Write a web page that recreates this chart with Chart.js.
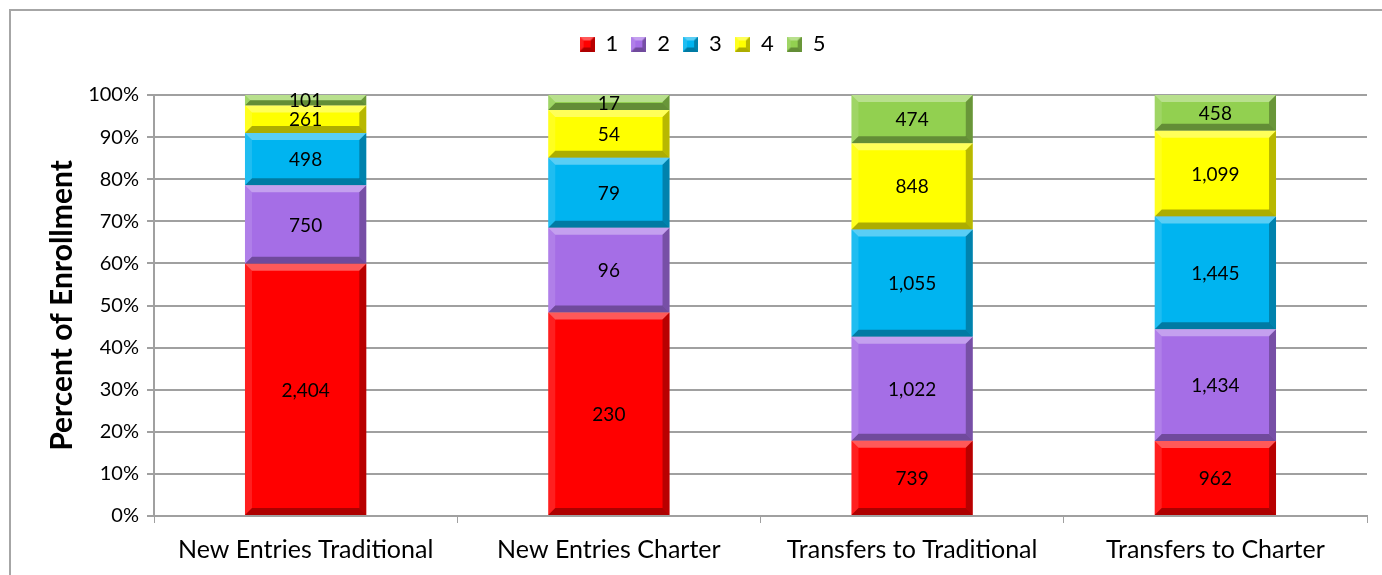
<!DOCTYPE html>
<html>
<head>
<meta charset="utf-8">
<script src="https://cdn.jsdelivr.net/npm/chart.js@4/dist/chart.umd.min.js"></script>
<style>
    html, body { margin: 0; padding: 0; background: #fff; overflow: hidden; }
    #wrap { position: relative; width: 1382px; height: 575px; }
    #frame { position: absolute; left: 9px; top: 9px; width: 1400px; height: 600px; border: 2px solid #a6a6a6; box-sizing: border-box; }
    canvas { position: absolute; left: 0; top: 0; }
</style>
</head>
<body>
<div id="wrap">
    <div id="frame"></div>
    <canvas id="mainChart" width="1382" height="575"></canvas>
</div>
<script>
// Kategorie i liczby uczniów dla każdej serii (1..5)
const categories = ['New Entries Traditional', 'New Entries Charter', 'Transfers to Traditional', 'Transfers to Charter'];
const seriesNames = ['1', '2', '3', '4', '5'];
const level1 = [2404, 230, 739, 962];
const level2 = [750, 96, 1022, 1434];
const level3 = [498, 79, 1055, 1445];
const level4 = [261, 54, 848, 1099];
const level5 = [101, 17, 474, 458];
const yTicks = [0, 10, 20, 30, 40, 50, 60, 70, 80, 90, 100];

const seriesColors = ['#ff0000', '#a56ee6', '#00b4f0', '#ffff00', '#92d050'];
const counts = [level1, level2, level3, level4, level5];

// sumy dla wykresu 100%
const totals = categories.map((_, i) => counts.reduce((s, arr) => s + arr[i], 0));

const FONT = 'Lato, "Open Sans", sans-serif';

/**
 * Rysuje fazowany prostokąt (efekt "bevel")
 */
function drawBevel(ctx, left, top, right, bottom, b) {
    const h = bottom - top, w = right - left;
    b = Math.min(b, h / 2, w / 2);
    if (b <= 0) return;
    ctx.save();
    const poly = (pts, fill) => {
        ctx.beginPath();
        ctx.moveTo(pts[0][0], pts[0][1]);
        for (let k = 1; k < pts.length; k++) ctx.lineTo(pts[k][0], pts[k][1]);
        ctx.closePath();
        ctx.fillStyle = fill;
        ctx.fill();
    };
    // góra - jasna
    poly([[left, top], [right, top], [right - b, top + b], [left + b, top + b]], 'rgba(255,255,255,0.35)');
    // lewo - lekko jasna
    poly([[left, top], [left + b, top + b], [left + b, bottom - b], [left, bottom]], 'rgba(255,255,255,0.12)');
    // dół - ciemna
    poly([[left, bottom], [left + b, bottom - b], [right - b, bottom - b], [right, bottom]], 'rgba(0,0,0,0.32)');
    // prawo - ciemna
    poly([[right, top], [right, bottom], [right - b, bottom - b], [right - b, top + b]], 'rgba(0,0,0,0.28)');
    ctx.restore();
}

function legendSwatch(color) {
    const c = document.createElement('canvas');
    c.width = 15; c.height = 15;
    const g = c.getContext('2d');
    g.fillStyle = color;
    g.fillRect(0, 0, 15, 15);
    drawBevel(g, 0, 0, 15, 15, 4);
    return c;
}

// legenda: stała wysokość, żeby obszar wykresu zaczynał się niżej
const legendHeightPlugin = {
    id: 'legendHeight',
    afterInit(chart) {
        const lg = chart.legend;
        if (!lg) return;
        const orig = lg.fit.bind(lg);
        lg.fit = function () {
            orig();
            this.height = 75;
            this.bottom = this.top + 75;
        };
    }
};

const bevelPlugin = {
    id: 'bevel',
    afterDatasetsDraw(chart) {
        const ctx = chart.ctx;
        chart.data.datasets.forEach((ds, di) => {
            const meta = chart.getDatasetMeta(di);
            meta.data.forEach((bar, i) => {
                const p = bar.getProps(['x', 'y', 'base', 'width'], true);
                const left = p.x - p.width / 2, right = p.x + p.width / 2;
                const top = Math.min(p.y, p.base), bottom = Math.max(p.y, p.base);
                drawBevel(ctx, left, top, right, bottom, 7);
                // etykieta z liczbą
                const val = counts[di][i];
                ctx.save();
                ctx.fillStyle = '#000';
                ctx.font = '19px ' + FONT;
                ctx.textAlign = 'center';
                ctx.textBaseline = 'middle';
                ctx.fillText(val.toLocaleString('en-US'), p.x, (top + bottom) / 2 + 1);
                ctx.restore();
            });
        });
    }
};

let datasets = seriesNames.map((name, di) => ({
    label: name,
    data: counts[di].map((v, i) => v / totals[i] * 100),
    backgroundColor: seriesColors[di],
    borderWidth: 0,
    categoryPercentage: 1,
    barPercentage: 0.4
}));

const ctx = document.getElementById('mainChart').getContext('2d');
new Chart(ctx, {
    type: 'bar',
    data: { labels: categories, datasets },
    options: {
        responsive: false,
        animation: false,
        devicePixelRatio: 1,
        layout: { padding: { left: 38, right: 15, top: 20, bottom: 0 } },
        plugins: {
            legend: {
                position: 'top',
                labels: {
                    usePointStyle: true,
                    boxWidth: 15,
                    boxHeight: 15,
                    color: '#000',
                    font: { size: 22, family: FONT },
                    padding: 13,
                    generateLabels: (chart) => chart.data.datasets.map((ds, i) => ({
                        text: ds.label,
                        pointStyle: legendSwatch(seriesColors[i]),
                        fillStyle: seriesColors[i],
                        strokeStyle: 'transparent',
                        lineWidth: 0,
                        datasetIndex: i,
                        hidden: false
                    }))
                }
            },
            tooltip: { enabled: false }
        },
        scales: {
            x: {
                stacked: true,
                grid: { offset: true, drawOnChartArea: false, drawTicks: true, tickLength: 7, color: '#a0a0a0' },
                border: { color: '#a0a0a0', width: 2 },
                ticks: { color: '#000', font: { size: 25, family: FONT }, padding: 12, maxRotation: 0 },
                afterFit: (s) => { s.height = 59; }
            },
            y: {
                stacked: true,
                min: 0,
                max: 100,
                afterBuildTicks: (s) => { s.ticks = yTicks.map(v => ({ value: v })); },
                grid: { color: '#a0a0a0', lineWidth: 2, tickLength: 7 },
                border: { color: '#a0a0a0', width: 2 },
                ticks: { color: '#000', font: { size: 20, family: FONT }, padding: 8, callback: v => v + '%' },
                title: { display: true, text: 'Percent of Enrollment', color: '#000', font: { size: 30, weight: 'bold', family: FONT }, padding: 6 },
                afterFit: (s) => { s.width = 116; }
            }
        }
    },
    plugins: [legendHeightPlugin, bevelPlugin]
});
</script>
</body>
</html>
